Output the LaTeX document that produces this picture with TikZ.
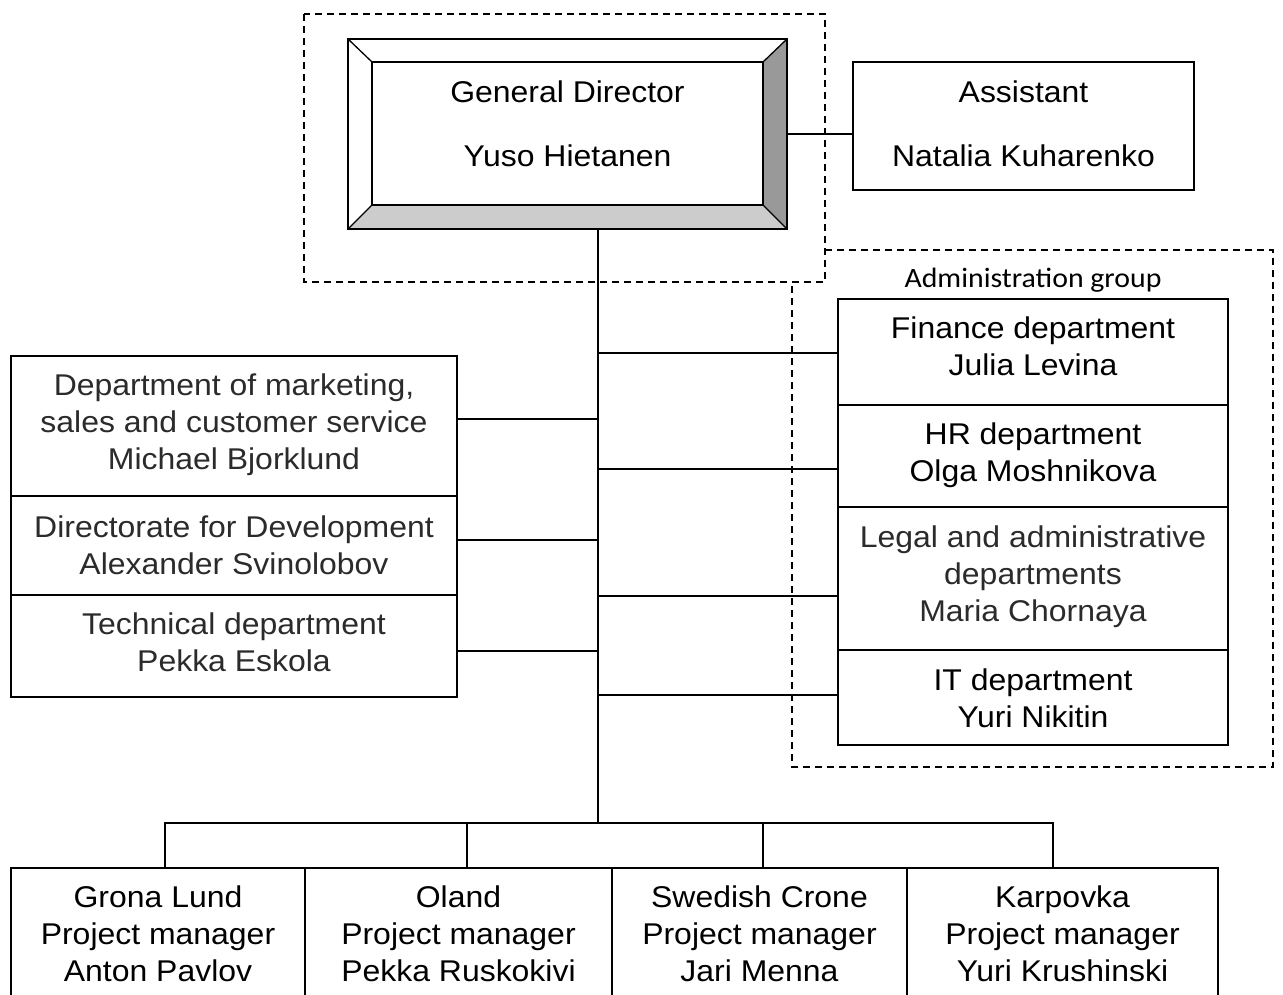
\documentclass[tikz,border=0pt]{standalone}
\usepackage{fontspec}
\setmainfont{Liberation Sans}[FakeStretch=1.065]
\newfontfamily\calibri{Carlito}[FakeStretch=1.065]
\usetikzlibrary{calc}
\definecolor{bevdark}{HTML}{999999}
\definecolor{bevlight}{HTML}{CCCCCC}
\definecolor{softtext}{HTML}{2B2B2B}
% centred lines of a box, optionally shifted up or down inside it
\newcommand{\boxlines}[2][0pt]{\raisebox{#1}[\height][\depth]{\begin{tabular}{@{}c@{}}#2\end{tabular}}}

\begin{document}
\begin{tikzpicture}[x=1pt,y=-1pt,
  box/.style={draw=black, line width=1.5pt, fill=white, inner sep=0pt, outer sep=0pt,
    font=\fontsize{30}{37}\selectfont},
  wire/.style={draw=black, line width=1.4pt},
  group/.style={draw=black, line width=1.3pt, dash pattern=on 7pt off 5pt},
]
\clip (0,0) rectangle (1283,995);
\fill[white] (0,0) rectangle (1283,995);

% dashed group frames
\draw[group] (792,250) rectangle (1273,767);
\draw[group, fill=white] (304,14) rectangle (825,282);
\node[font=\calibri\fontsize{28}{32}\selectfont, inner sep=0pt] (admlabel) at (1033,280) {Administration group};

% general director (bevelled frame)
\node[box, minimum width=439pt, minimum height=190pt] (gd) at (567.5,134) {\boxlines[6.5pt]{General Director\\[27pt]Yuso Hietanen}};
\fill[bevdark] (gd.north east) -- (gd.south east) -- ++(-24,-24) -- ($(gd.north east)+(-24,23)$) -- cycle;
\fill[bevlight] (gd.south west) -- (gd.south east) -- ++(-24,-24) -- ($(gd.south west)+(24,-24)$) -- cycle;
\draw[line width=1.3pt] ($(gd.north west)+(24,23)$) rectangle ($(gd.south east)+(-24,-24)$);
\draw[line width=1.3pt] (gd.north west) -- ++(24,23) (gd.north east) -- ++(-24,23)
  (gd.south west) -- ++(24,-24) (gd.south east) -- ++(-24,-24);
\draw[line width=1.5pt] (gd.north west) rectangle (gd.south east);

% assistant
\node[box, minimum width=341pt, minimum height=128pt] (asst) at (1023.5,126) {\boxlines[-1pt]{Assistant\\[27pt]Natalia Kuharenko}};

% administration group
\node[box, minimum width=390pt, minimum height=106pt] (fin) at (1033,352) {\boxlines[2pt]{Finance department\\Julia Levina}};
\node[box, minimum width=390pt, minimum height=102pt] (hr) at (1033,456) {\boxlines{HR department\\Olga Moshnikova}};
\node[box, minimum width=390pt, minimum height=143pt, text=softtext] (legal) at (1033,578.5) {\boxlines[1.5pt]{Legal and administrative\\departments\\Maria Chornaya}};
\node[box, minimum width=390pt, minimum height=95pt] (it) at (1033,697.5) {\boxlines[-4pt]{IT department\\Yuri Nikitin}};

% left column
\node[box, minimum width=446pt, minimum height=140pt, text=softtext] (mkt) at (234,426) {\boxlines[1pt]{Department of marketing,\\sales and customer service\\Michael Bjorklund}};
\node[box, minimum width=446pt, minimum height=99pt, text=softtext] (dev) at (234,545.5) {\boxlines[-3.5pt]{Directorate for Development\\Alexander Svinolobov}};
\node[box, minimum width=446pt, minimum height=102pt, text=softtext] (tech) at (234,646) {\boxlines{Technical department\\Pekka Eskola}};

% projects
\node[box, minimum width=294pt, minimum height=140pt] (gl) at (158,938) {\boxlines[1pt]{Grona Lund\\Project manager\\Anton Pavlov}};
\node[box, minimum width=307pt, minimum height=140pt] (ol) at (458.5,938) {\boxlines[1pt]{Oland\\Project manager\\Pekka Ruskokivi}};
\node[box, minimum width=295pt, minimum height=140pt] (sc) at (759.5,938) {\boxlines[1pt]{Swedish Crone\\Project manager\\Jari Menna}};
\node[box, minimum width=311pt, minimum height=140pt] (kp) at (1062.5,938) {\boxlines[1pt]{Karpovka\\Project manager\\Yuri Krushinski}};

% connectors
\coordinate (bus) at (598,823);
\draw[wire] (gd.east |- 0,134) -- (asst.west |- 0,134);
\draw[wire] (bus |- gd.south) -- (bus);
\draw[wire] ($(fin.west)+(0,1)$) coordinate (fin-in) -- (fin-in -| bus);
\draw[wire] ($(hr.west)+(0,13)$) coordinate (hr-in) -- (hr-in -| bus);
\draw[wire] ($(legal.west)+(0,17.5)$) coordinate (legal-in) -- (legal-in -| bus);
\draw[wire] ($(it.west)+(0,-2.5)$) coordinate (it-in) -- (it-in -| bus);
\draw[wire] ($(mkt.east)+(0,-7)$) coordinate (mkt-in) -- (mkt-in -| bus);
\draw[wire] ($(dev.east)+(0,-5.5)$) coordinate (dev-in) -- (dev-in -| bus);
\draw[wire] ($(tech.east)+(0,5)$) coordinate (tech-in) -- (tech-in -| bus);
\coordinate (gl-in) at ($(gl.north)+(7,0)$);
\coordinate (ol-in) at ($(ol.north)+(8.5,0)$);
\coordinate (sc-in) at ($(sc.north)+(3.5,0)$);
\coordinate (kp-in) at ($(kp.north)+(-9.5,0)$);
\draw[wire] (gl-in) |- (kp-in |- bus) -- (kp-in);
\draw[wire] (ol-in) -- (ol-in |- bus);
\draw[wire] (sc-in) -- (sc-in |- bus);
\end{tikzpicture}
\end{document}
